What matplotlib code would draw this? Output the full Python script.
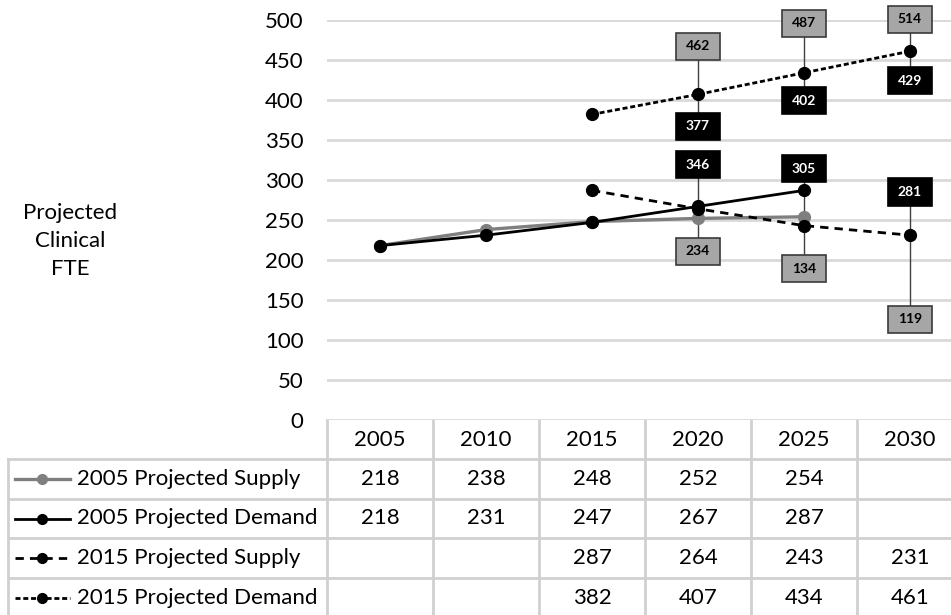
import matplotlib.pyplot as plt
from matplotlib.patches import Rectangle
from matplotlib import transforms

plt.rcParams['font.family'] = ['Lato', 'DejaVu Sans']

years = ['2005', '2010', '2015', '2020', '2025', '2030']
supply_2005 = [218, 238, 248, 252, 254, None]
demand_2005 = [218, 231, 247, 267, 287, None]
supply_2015 = [None, None, 287, 264, 243, 231]
demand_2015 = [None, None, 382, 407, 434, 461]

series_names = ['2005 Projected Supply', '2005 Projected Demand',
                '2015 Projected Supply', '2015 Projected Demand']

# range labels for the 2015 projections (2020, 2025, 2030)
range_idx = [3, 4, 5]
demand_high = [462, 487, 514]
demand_low = [377, 402, 429]
supply_high = [346, 305, 281]
supply_low = [234, 134, 119]
# where the label boxes sit on the value axis
demand_high_pos = [467, 496, 501]
demand_low_pos = [367, 399, 424]
supply_high_pos = [319, 314, 285]
supply_low_pos = [211, 189, 126]

W, H = 951, 615
FS = 16
fig = plt.figure(figsize=(W / 100, H / 100), dpi=100)
ax = fig.add_axes([327 / W, (H - 420) / H, 636 / W, 400 / H])

xs = list(range(len(years)))

def pts(vals):
    px = [x for x, v in zip(xs, vals) if v is not None]
    py = [v for v in vals if v is not None]
    return px, py

styles = [
    dict(color='#7f7f7f', ls='-', lw=2.4),
    dict(color='black', ls='-', lw=2),
    dict(color='black', ls=(0, (3, 2.2)), lw=2),
    dict(color='black', ls=(0, (1.8, 1.0)), lw=2),
]
all_series = [supply_2005, demand_2005, supply_2015, demand_2015]

for vals, st in zip(all_series, styles):
    px, py = pts(vals)
    ax.plot(px, py, marker='o', ms=8.5, zorder=3, **st)

# range whiskers and label boxes
bw, bh = 0.42, 34
def box(x, y, text, dark):
    fc = 'black' if dark else '#a6a6a6'
    ec = 'black' if dark else '#3a3a3a'
    tc = 'white' if dark else 'black'
    ax.add_patch(Rectangle((x - bw / 2, y - bh / 2), bw, bh, fc=fc, ec=ec,
                           lw=1.2, zorder=5, clip_on=False))
    ax.text(x, y, str(text), ha='center', va='center', color=tc,
            fontsize=10, fontweight='bold', zorder=6, clip_on=False)

for i, x in enumerate(range_idx):
    ax.plot([x, x], [demand_low_pos[i], demand_high_pos[i]], color='#404040',
            lw=1, zorder=2, clip_on=False)
    ax.plot([x, x], [supply_low_pos[i], supply_high_pos[i]], color='#404040',
            lw=1, zorder=2, clip_on=False)
    box(x, demand_high_pos[i], demand_high[i], False)
    box(x, demand_low_pos[i], demand_low[i], True)
    box(x, supply_high_pos[i], supply_high[i], True)
    box(x, supply_low_pos[i], supply_low[i], False)

ax.set_xlim(-0.5, 5.5)
ax.set_ylim(0, 500)
ax.set_yticks(range(0, 501, 50))
ax.set_xticks([])
ax.yaxis.grid(True, color='#d9d9d9', lw=2)
ax.set_axisbelow(True)
for s in ax.spines.values():
    s.set_visible(False)
ax.tick_params(axis='y', length=0, pad=17, labelsize=FS)

fig.text(70 / W, 1 - 241 / H, 'Projected\nClinical\nFTE', ha='center',
         va='center', fontsize=FS, linespacing=1.5)

# data table below the plot, y in pixel rows
tax = fig.add_axes([0, 0, 1, 1], zorder=-1)
tax.set_xlim(0, W)
tax.set_ylim(H, 0)
tax.axis('off')
blend = transforms.blended_transform_factory(ax.transData, tax.transData)

grid_c = '#d0d0d0'
row_edges = [420, 459, 499, 538, 578, 618]
for y in row_edges[1:]:
    tax.plot([8, 970], [y, y], color=grid_c, lw=2, clip_on=False)
tax.plot([8, 8], [459, 618], color=grid_c, lw=2, clip_on=False)
for b in [x - 0.5 for x in xs] + [5.5]:
    tax.plot([b, b], [420, 618], color=grid_c, lw=2, transform=blend,
             clip_on=False)

for x, yr in zip(xs, years):
    tax.text(x, 440, yr, ha='center', va='center', fontsize=FS,
             transform=blend)

for r, (name, vals, st) in enumerate(zip(series_names, all_series, styles)):
    yc = (row_edges[r + 1] + row_edges[r + 2]) / 2
    tax.plot([15, 70], [yc, yc], **st)
    tax.plot([42], [yc], marker='o', ms=7, color=st['color'])
    tax.text(77, yc, name, ha='left', va='center', fontsize=FS)
    for x, v in zip(xs, vals):
        if v is not None:
            tax.text(x, yc, str(v), ha='center', va='center', fontsize=FS,
                     transform=blend)

fig.savefig('out.png', dpi=100)
